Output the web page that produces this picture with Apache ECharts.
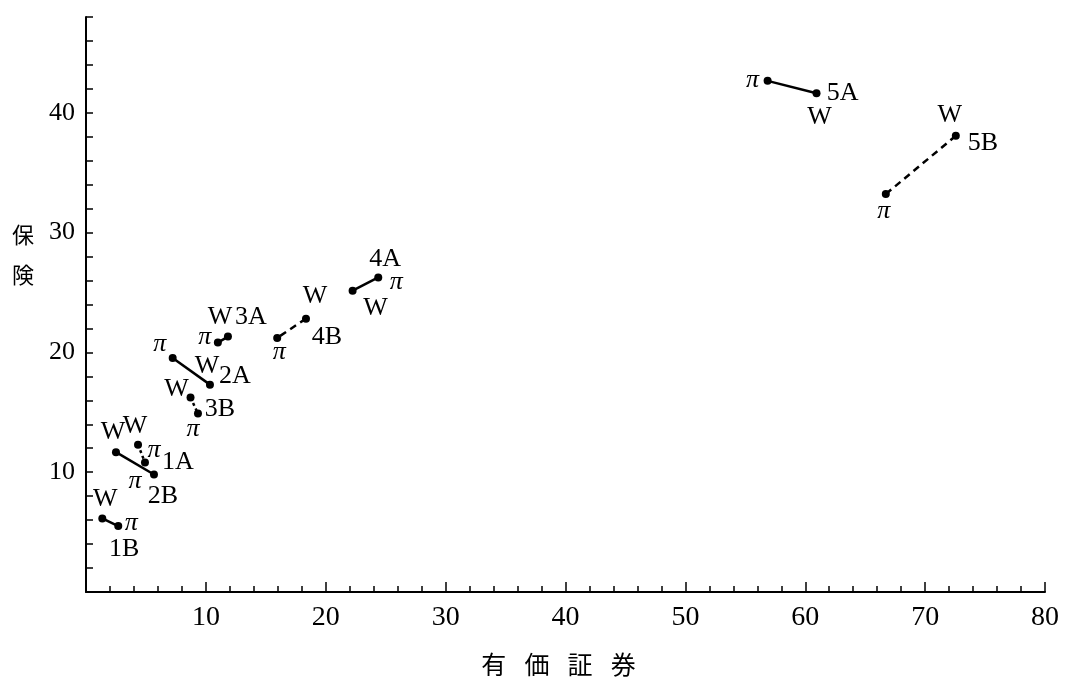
<!DOCTYPE html>
<html>
<head>
<meta charset="utf-8">
<script src="https://cdn.jsdelivr.net/npm/echarts@6/dist/echarts.min.js"></script>
<style>
  html, body { margin: 0; padding: 0; background: #fff; }
  #chart { width: 1067px; height: 682px; }
</style>
</head>
<body>
<div id="chart"></div>
<script>
// pair names and the two points of each pair (W and π)
const pairs = ['1A', '1B', '2A', '2B', '3A', '3B', '4A', '4B', '5A', '5B']
const wX = [4.34, 1.36, 10.34, 2.5, 11.84, 8.72, 22.24, 18.35, 60.94, 72.56]
const wY = [12.3, 6.14, 17.31, 11.67, 21.32, 16.23, 25.15, 22.82, 41.64, 38.08]
const piX = [4.92, 2.69, 7.23, 5.67, 11.0, 9.34, 24.38, 15.95, 56.86, 66.72]
const piY = [10.8, 5.5, 19.54, 9.81, 20.82, 14.9, 26.26, 21.21, 42.67, 33.22]
const xTicks = [10, 20, 30, 40, 50, 60, 70, 80]
const yTicks = [10, 20, 30, 40]

// line style per pair
const lineKind = ['dotted', 'solid', 'solid', 'solid', 'solid', 'dotted', 'solid', 'dashed', 'solid', 'dashed']
const dashOf = { solid: 'solid', dotted: [3, 3], dashed: [7, 5] }

// label placement (pixel offsets from the point)
const wOff = [[-3, -18], [3, -19], [-3, -18], [-3, -20], [-8, -19], [-14, -8], [23, 17], [9, -22], [3, 24], [-6, -21]]
const piOff = [[9, -12], [13, -3], [-13, -14], [-19, 7], [-13, -5], [-5, 16], [18, 5], [2, 14], [-15, -1], [-2, 17]]
const nameAt = ['pi', 'pi', 'w', 'pi', 'w', 'pi', 'pi', 'w', 'w', 'w']
const nameOff = [[33, 0], [6, 23], [25, -8], [9, 22], [23, -19], [22, -4], [7, -18], [21, 19], [26, 0], [27, 7]]

const serif = '"Liberation Serif", "DejaVu Serif", serif'
const chart = echarts.init(document.getElementById('chart'))

function pointLabel (text, off, italic) {
  return {
    show: true,
    formatter: text,
    position: 'inside',
    offset: off,
    align: 'center',
    verticalAlign: 'middle',
    color: '#000',
    fontFamily: serif,
    fontSize: 26,
    fontStyle: italic ? 'italic' : 'normal'
  }
}

const series = pairs.map((p, i) => ({
  name: p,
  type: 'line',
  symbol: 'circle',
  symbolSize: 8,
  itemStyle: { color: '#000' },
  lineStyle: { color: '#000', width: 2.5, type: dashOf[lineKind[i]] },
  data: [
    { value: [wX[i], wY[i]], label: pointLabel('W', wOff[i], false) },
    { value: [piX[i], piY[i]], label: pointLabel('π', piOff[i], true) }
  ]
}))

series.push({
  name: 'pair',
  type: 'scatter',
  symbolSize: 0,
  silent: true,
  itemStyle: { color: '#000', opacity: 1 },
  data: pairs.map((p, i) => ({
    value: nameAt[i] === 'w' ? [wX[i], wY[i]] : [piX[i], piY[i]],
    label: pointLabel(p, nameOff[i], false)
  }))
})

const option = {
  animation: false,
  backgroundColor: '#fff',
  grid: { left: 86, right: 22, top: 17, bottom: 89, containLabel: false },
  xAxis: {
    type: 'value',
    min: 0,
    max: 80,
    interval: 10,
    name: '有\u2002 価\u2002 証\u2002 券',
    nameLocation: 'middle',
    nameGap: 60,
    nameTextStyle: { fontFamily: '"Noto Sans CJK JP"', fontSize: 25, color: '#000', padding: [0, 14, 0, 0] },
    axisLine: { lineStyle: { color: '#000', width: 2 } },
    axisTick: { inside: true, length: 10, lineStyle: { color: '#000', width: 1.5 } },
    minorTick: { show: true, splitNumber: 5, length: 6, lineStyle: { color: '#000', width: 1.5 } },
    axisLabel: {
      margin: 12,
      color: '#000',
      fontFamily: serif,
      fontSize: 28,
      formatter: v => (xTicks.includes(v) ? String(v) : '')
    },
    splitLine: { show: false }
  },
  yAxis: {
    type: 'value',
    min: 0,
    max: 48,
    interval: 2,
    name: '保\n\n険\n\u3000\n\u3000\n\u3000\n\u3000\n\u3000',
    nameLocation: 'middle',
    nameRotate: 0,
    nameGap: 52,
    nameTextStyle: {
      fontFamily: '"Noto Sans CJK JP"',
      fontSize: 22,
      lineHeight: 20,
      color: '#000'
    },
    axisLine: { lineStyle: { color: '#000', width: 2 } },
    axisTick: { inside: true, length: 7, lineStyle: { color: '#000', width: 1.5 } },
    axisLabel: {
      margin: 11,
      color: '#000',
      fontFamily: serif,
      fontSize: 26,
      padding: [6, 0, 0, 0],
      formatter: v => (yTicks.includes(v) ? String(v) : '')
    },
    splitLine: { show: false }
  },
  series: series
}

chart.setOption(option)
</script>
</body>
</html>
